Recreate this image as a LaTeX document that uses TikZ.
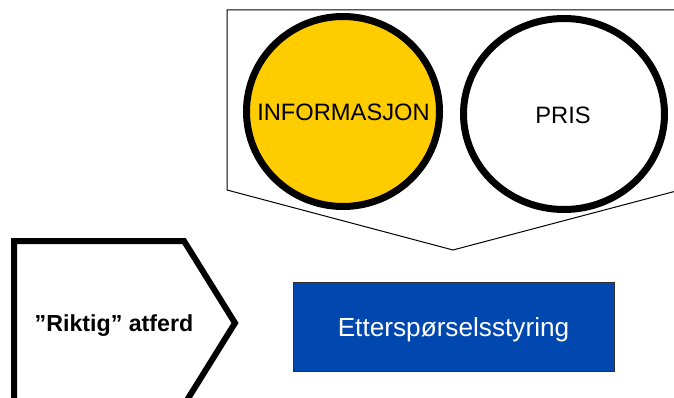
\documentclass[tikz,border=0pt]{standalone}
\usepackage{fontspec}
\setmainfont{Liberation Sans}
\definecolor{infoyellow}{HTML}{FFCC00}
\definecolor{boxblue}{HTML}{0047B0}
\definecolor{boxedge}{HTML}{303030}
\tikzset{
  thickring/.style={draw=black, line width=7pt},
  thinframe/.style={draw=black, line width=1pt, line join=miter},
  arrowframe/.style={draw=black, line width=6pt, line join=miter},
  label/.style={inner sep=0pt, anchor=base, font=\fontsize{23.7}{28}\selectfont},
}
\begin{document}
\begin{tikzpicture}[x=1pt,y=-1pt]
\useasboundingbox (0,0) rectangle (674,398);
\fill[white] (0,0) rectangle (674,398);
\clip (0,0) rectangle (674,398);
% top pentagon (down-pointing)
\draw[thinframe, fill=white] (227,10) -- (680,10) -- (680,190) -- (453,250) -- (227,190) -- cycle;
% circles
\draw[thickring, fill=infoyellow] (343,111.5) ellipse [x radius=96.5, y radius=95];
\draw[thickring, fill=white] (564,114) ellipse [x radius=100.5, y radius=95.5];
\node[label] (info) at (343.5,121) {INFORMASJON};
\node[label] (pris) at (563,124) {PRIS};
% left arrow shape
\draw[arrowframe, fill=white] (14,410) -- (14,241) -- (184,241) -- (235,323) -- (184,405) -- (184,410);
\node[label, font=\fontsize{23.2}{28}\selectfont\bfseries] (atferd) at (114,331.7) {”Riktig” atferd};
% blue box
\draw[draw=boxedge, line width=1pt, fill=boxblue] (293,282) rectangle (614,371);
\node[label, text=white, font=\fontsize{26.2}{30}\selectfont] (styring) at (453.5,336.7) {Etterspørselsstyring};
\end{tikzpicture}
\end{document}
